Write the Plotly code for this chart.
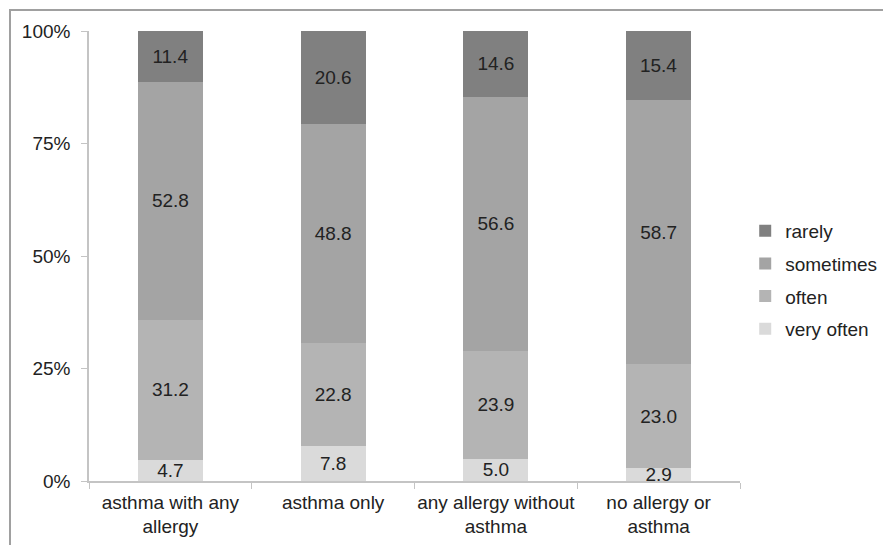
import plotly.graph_objects as go

categories = ["asthma with any<br>allergy", "asthma only", "any allergy without<br>asthma", "no allergy or<br>asthma"]
very_often = [4.7, 7.8, 5.0, 2.9]
often = [31.2, 22.8, 23.9, 23.0]
sometimes = [52.8, 48.8, 56.6, 58.7]
rarely = [11.4, 20.6, 14.6, 15.4]
y_ticks = [0, 25, 50, 75, 100]
y_tick_labels = ["0%", "25%", "50%", "75%", "100%"]

series = [
    ("very often", very_often, "#dadada", 4),
    ("often", often, "#b4b4b4", 3),
    ("sometimes", sometimes, "#a4a4a4", 2),
    ("rarely", rarely, "#808080", 1),
]

FONT = "Liberation Sans, Arial"

fig = go.Figure()
for name, vals, color, rank in series:
    fig.add_trace(go.Bar(
        x=categories, y=vals, name=name, legendgroup=name, legendrank=rank,
        marker=dict(color=color, line=dict(width=0)),
        text=[f"{v:.1f}" for v in vals],
        textposition="inside", insidetextanchor="middle",
        textfont=dict(color="#222222", size=19, family=FONT),
        textangle=0,
        width=0.4,
    ))

# page has an 8px body offset; figure sized to fill the 891x545 window
fig.update_layout(
    barmode="stack", barnorm="percent",
    width=883, height=537,
    margin=dict(l=81, r=151, t=23, b=64, autoexpand=False),
    paper_bgcolor="white", plot_bgcolor="white",
    font=dict(family=FONT, size=19, color="#222222"),
    uniformtext=dict(minsize=19, mode="show"),
    legend=dict(traceorder="grouped", x=1.008, y=0.447, yanchor="middle",
                font=dict(size=19), itemwidth=30, tracegroupgap=5),
    showlegend=True,
)
fig.update_yaxes(range=[0, 100], tickvals=y_ticks, ticktext=y_tick_labels,
                 showgrid=False, showline=True, linecolor="#c4c4c4", linewidth=1.5,
                 ticks="outside", ticklen=6, tickcolor="#c4c4c4", zeroline=False,
                 ticklabelstandoff=7, automargin=False)
fig.update_xaxes(showgrid=False, showline=True, linecolor="#c4c4c4", linewidth=1.5,
                 ticks="outside", ticklen=6, tickcolor="#c4c4c4", tickson="boundaries",
                 tickangle=0, automargin=False, tickfont=dict(size=19),
                 ticklabelstandoff=3)

# outer frame
fig.add_shape(type="rect", xref="paper", yref="paper",
              x0=(2 - 81) / 651, x1=1.3, y0=-0.3, y1=1 + (23 - 2) / 450,
              line=dict(color="#a0a0a0", width=2), layer="below")

fig.write_html("out.html")
